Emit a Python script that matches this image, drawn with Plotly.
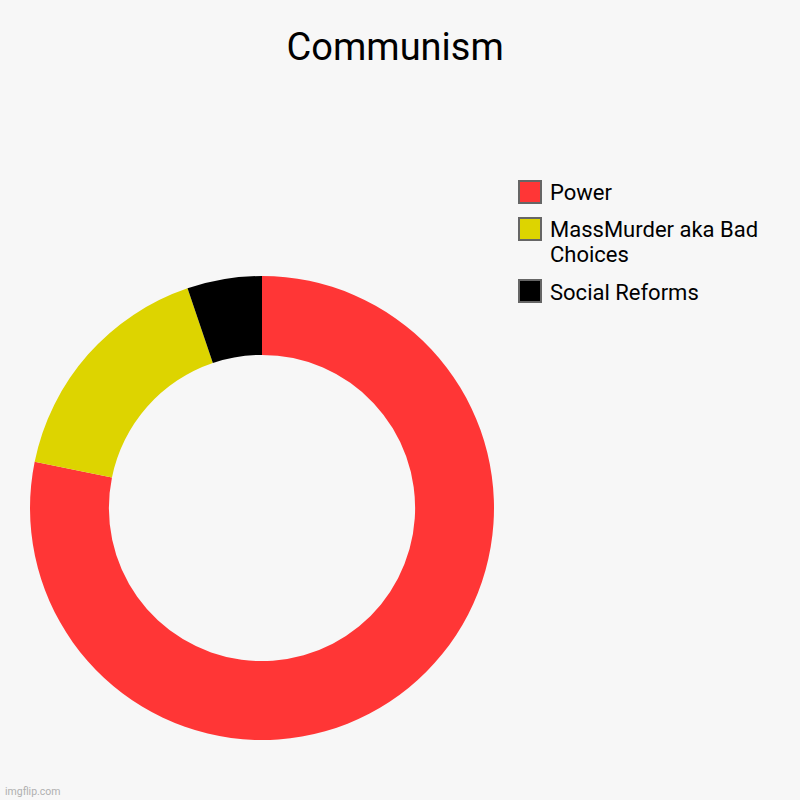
import plotly.graph_objects as go

labels = ["Power", "MassMurder aka Bad Choices", "Social Reforms"]
legend_lines = [["Power"], ["MassMurder aka Bad", "Choices"], ["Social Reforms"]]
values = [78.2, 16.6, 5.2]
colors = ["#FF3636", "#DDD400", "#000000"]

W = 800
H = 800

fig = go.Figure(go.Pie(
    labels=labels,
    values=values,
    hole=0.66,
    sort=False,
    direction="clockwise",
    rotation=0,
    textinfo="none",
    marker=dict(colors=colors, line=dict(width=0)),
    domain=dict(x=[30 / W, 494 / W], y=[1 - 740 / H, 1 - 276 / H]),
    showlegend=False,
))

# hand-made legend (grey-outlined squares), one annotation per text line
box_tops = [180, 217, 279]
line_y = [[192], [230, 255], [292]]
for i in range(len(labels)):
    fig.add_shape(
        type="rect", xref="paper", yref="paper",
        x0=519 / W, x1=541 / W,
        y0=1 - (box_tops[i] + 23) / H, y1=1 - (box_tops[i] + 1) / H,
        fillcolor=colors[i], line=dict(color="#666666", width=2),
    )
    for txt, yy in zip(legend_lines[i], line_y[i]):
        fig.add_annotation(
            x=548 / W, y=1 - yy / H, xref="paper", yref="paper",
            text=txt, showarrow=False, xanchor="left", yanchor="middle",
            font=dict(family="Roboto", size=22, color="#000000"),
        )

fig.add_annotation(
    x=3 / W, y=1 - 791 / H, xref="paper", yref="paper",
    text="imgflip.com", showarrow=False, xanchor="left", yanchor="middle",
    font=dict(family="Roboto", size=10.5, color="#B0B0B0"),
)

fig.update_layout(
    width=W, height=H,
    margin=dict(l=0, r=0, t=0, b=0),
    paper_bgcolor="#F7F7F7",
    plot_bgcolor="#F7F7F7",
    title=dict(text="Communism", x=0.494, xanchor="center", y=1 - 47 / H, yanchor="middle",
               font=dict(family="Roboto", size=38, color="#000000")),
)

# drop the default page margin so the figure sits at the window's corner
fig.write_html("out.html", config={"displayModeBar": False},
               post_script="document.body.style.margin='0px';")
